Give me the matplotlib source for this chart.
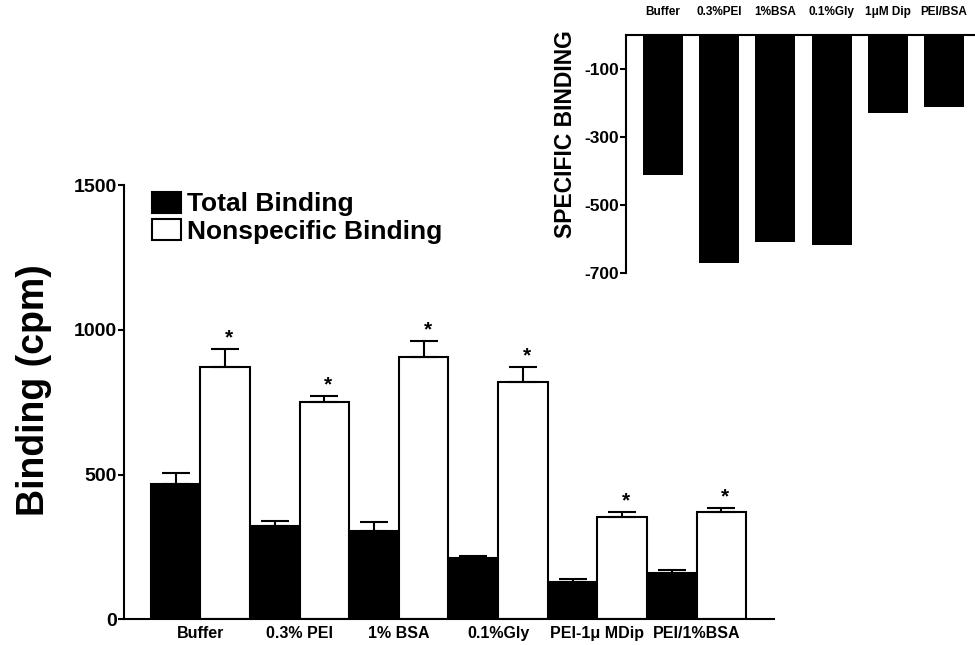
import matplotlib

matplotlib.use("Agg")
import matplotlib.pyplot as plt
import numpy as np
from matplotlib.patches import Patch

plt.rcParams["font.family"] = ["Liberation Sans", "DejaVu Sans"]
plt.rcParams["font.weight"] = "bold"
plt.rcParams["axes.unicode_minus"] = False

# main panel data
conditions = ["Buffer", "0.3% PEI", "1% BSA", "0.1%Gly", "PEI-1\u03bc MDip", "PEI/1%BSA"]
total_binding = [467, 321, 304, 211, 128, 159]
total_err = [38, 18, 31, 7, 10, 10]
nonspecific_binding = [871, 750, 906, 819, 353, 370]
nonspecific_err = [62, 21, 55, 52, 17, 14]

# inset data
inset_labels = ["Buffer", "0.3%PEI", "1%BSA", "0.1%Gly", "1\u03bcM Dip", "PEI/BSA"]
specific_binding = [-412, -671, -608, -618, -230, -212]

LW = 1.5

fig = plt.figure(figsize=(9.75, 6.45), dpi=100)
ax = fig.add_axes([0.127, 0.040, 0.667, 0.673])

n = len(conditions)
x_total = np.arange(n) * 2
x_ns = x_total + 1

ax.bar(x_total, total_binding, width=1.0, color="black", edgecolor="black", linewidth=LW)
ax.bar(x_ns, nonspecific_binding, width=1.0, color="white", edgecolor="black", linewidth=LW)
ax.errorbar(x_total, total_binding, yerr=[np.zeros(n), total_err], fmt="none",
            ecolor="black", elinewidth=LW, capsize=10, capthick=LW)
ax.errorbar(x_ns, nonspecific_binding, yerr=[np.zeros(n), nonspecific_err], fmt="none",
            ecolor="black", elinewidth=LW, capsize=10, capthick=LW)

for xi, v, e in zip(x_ns, nonspecific_binding, nonspecific_err):
    ax.annotate("*", (xi + 0.08, v + e), xytext=(0, 1), textcoords="offset points",
                ha="center", va="bottom", fontsize=15, fontweight="bold")

ax.set_xlim(-1.045, 12.065)
ax.set_ylim(0, 1500)
ax.set_yticks([0, 500, 1000, 1500])
ax.set_xticks(x_total + 0.5)
ax.set_xticklabels(conditions, fontsize=11.5, fontweight="bold")
ax.tick_params(axis="x", length=0, pad=5)
ax.tick_params(axis="y", length=4, width=LW, labelsize=14, pad=1)
for lbl in ax.get_yticklabels():
    lbl.set_fontweight("bold")
ax.set_ylabel("Binding (cpm)", fontsize=27, fontweight="bold")
ax.yaxis.set_label_coords(-0.111, 0.528)
ax.spines["top"].set_visible(False)
ax.spines["right"].set_visible(False)
ax.spines["left"].set_linewidth(LW)
ax.spines["bottom"].set_linewidth(LW)

handles = [
    Patch(facecolor="black", edgecolor="black", linewidth=LW, label="Total Binding"),
    Patch(facecolor="white", edgecolor="black", linewidth=LW, label="Nonspecific Binding"),
]
ax.legend(handles=handles, loc="upper left", bbox_to_anchor=(0.043, 0.985), frameon=False,
          prop={"size": 19, "weight": "bold"}, handlelength=1.1, handleheight=0.85,
          handletextpad=0.25, labelspacing=0.1, borderpad=0, borderaxespad=0)

# inset
ins = fig.add_axes([0.642, 0.577, 0.358, 0.369])
ix = np.arange(len(inset_labels))
ins.bar(ix, specific_binding, width=0.71, color="black")
ins.set_xlim(-0.658, 5.55)
ins.set_ylim(-700, 0)
ins.set_yticks([-100, -300, -500, -700])
ins.xaxis.tick_top()
ins.set_xticks(ix)
ins.set_xticklabels(inset_labels, fontsize=8.5, fontweight="bold")
ins.tick_params(axis="x", length=0, pad=12)
ins.tick_params(axis="y", length=4, width=LW, labelsize=12.5, pad=1)
for lbl in ins.get_yticklabels():
    lbl.set_fontweight("bold")
ins.set_ylabel("SPECIFIC BINDING", fontsize=16.5, fontweight="bold")
ins.yaxis.set_label_coords(-0.14, 0.584)
ins.spines["bottom"].set_visible(False)
ins.spines["right"].set_visible(False)
ins.spines["left"].set_linewidth(LW)
ins.spines["top"].set_linewidth(LW)
ins.patch.set_alpha(0)

fig.savefig("out.png", dpi=100)
